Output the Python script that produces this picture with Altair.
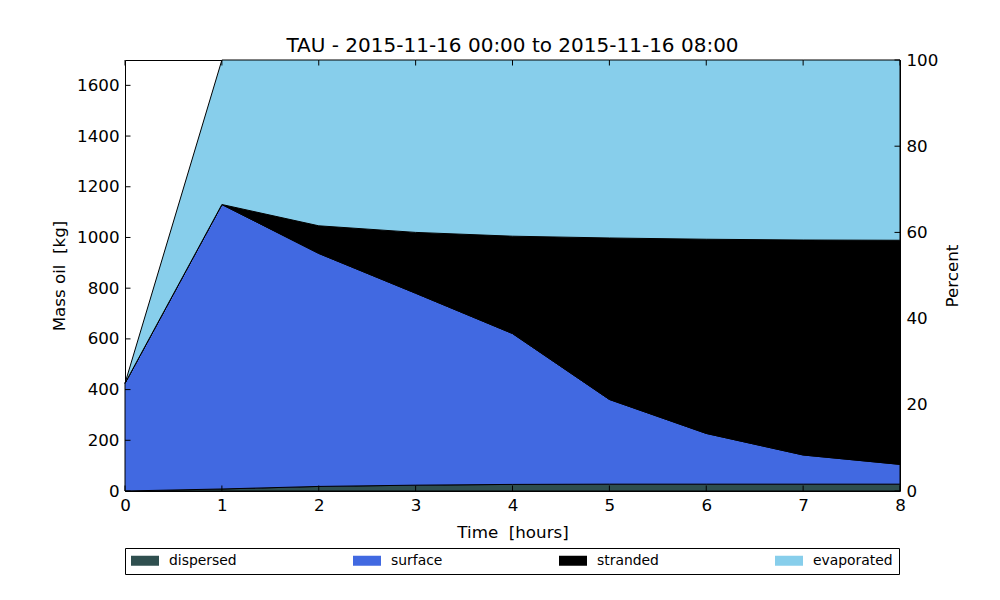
import altair as alt
import pandas as pd

hours = [0, 1, 2, 3, 4, 5, 6, 7, 8]
dispersed = [0, 8, 18, 23, 26, 27, 27, 27, 27]
surface = [425, 1122, 919, 757, 595, 334, 200, 115, 78]
stranded = [0, 0, 109, 240, 384, 637, 766, 848, 884]
evaporated = [0, 570, 654, 680, 695, 702, 707, 710, 711]

series_names = ["dispersed", "surface", "stranded", "evaporated"]
series_colors = ["#2F4F4F", "#4169E1", "#000000", "#87CEEB"]
series_values = [dispersed, surface, stranded, evaporated]

y_ticks = [0, 200, 400, 600, 800, 1000, 1200, 1400, 1600]
pct_ticks = [0, 20, 40, 60, 80, 100]
y_max = 1700

rows = []
for k, (name, vals) in enumerate(zip(series_names, series_values)):
    for h, v in zip(hours, vals):
        rows.append({"hour": h, "mass": v, "component": name, "k": k})
df = pd.DataFrame(rows)

W, H = 775, 431
FONT = "DejaVu Sans"

xscale = alt.Scale(domain=[0, 8], nice=False)
yscale = alt.Scale(domain=[0, y_max], nice=False)

areas = alt.Chart(df).mark_area(stroke="black", strokeWidth=1, opacity=1).encode(
    x=alt.X("hour:Q", scale=xscale,
            axis=alt.Axis(title="Time\u00a0 [hours]", values=hours, format="d", tickSize=0,
                          labelPadding=6, titlePadding=11, grid=False, domain=False,
                          labelFlush=False)),
    y=alt.Y("mass:Q", stack="zero", scale=yscale,
            axis=alt.Axis(title="Mass oil\u00a0 [kg]", values=y_ticks, format="d", tickSize=0,
                          labelPadding=6, titlePadding=8, grid=False, domain=False,
                          labelFlush=False)),
    color=alt.Color("component:N",
                    scale=alt.Scale(domain=series_names, range=series_colors),
                    legend=alt.Legend(title=None, orient="none", legendX=0, legendY=488,
                                      direction="horizontal", columns=4, columnPadding=116,
                                      symbolType="M-1,-0.357H1V0.357H-1Z", symbolSize=784,
                                      symbolStrokeWidth=0, symbolOpacity=1, clipHeight=13,
                                      labelFont=FONT, labelFontSize=13.9, labelColor="black",
                                      labelOffset=10, strokeColor="black", padding=6,
                                      fillColor="white", cornerRadius=0)),
    order=alt.Order("k:Q", sort="ascending"),
)

ydf = pd.DataFrame({"v": y_ticks})
left_ticks = alt.Chart(ydf).mark_rule(color="black", strokeWidth=1).encode(
    y=alt.Y("v:Q", scale=yscale, axis=None), x=alt.value(0), x2=alt.value(5.5))

pdf = pd.DataFrame({"p": pct_ticks})
right_ticks = alt.Chart(pdf).transform_calculate(kg=f"datum.p / 100 * {y_max}").mark_rule(
    color="black", strokeWidth=1).encode(
    y=alt.Y("kg:Q", scale=yscale, axis=None), x=alt.value(W - 5.5), x2=alt.value(W))

xdf = pd.DataFrame({"h": hours})
bottom_ticks = alt.Chart(xdf).mark_rule(color="black", strokeWidth=1).encode(
    x=alt.X("h:Q", scale=xscale), y=alt.value(H), y2=alt.value(H - 5.5))
top_ticks = alt.Chart(xdf).mark_rule(color="black", strokeWidth=1).encode(
    x=alt.X("h:Q", scale=xscale), y=alt.value(0), y2=alt.value(5.5))

pct_axis = alt.Chart(pdf).mark_rule(opacity=0).encode(
    y=alt.Y("p:Q", scale=alt.Scale(domain=[0, 100], nice=False),
            axis=alt.Axis(orient="right", title="Percent", values=pct_ticks, format="d", tickSize=0,
                          labelPadding=6, titlePadding=24, titleAngle=270, grid=False, domain=False,
                          labelFlush=False)),
)

chart = alt.layer(areas, left_ticks, right_ticks, bottom_ticks, top_ticks, pct_axis).resolve_scale(
    y="independent"
).properties(
    width=W, height=H,
    background="white",
    title=alt.TitleParams("TAU - 2015-11-16 00:00 to 2015-11-16 08:00", font=FONT, fontSize=20,
                          fontWeight="normal", color="black", anchor="middle", offset=-4),
    autosize=alt.AutoSizeParams(type="none"),
    padding={"left": 117, "top": 52, "right": 90, "bottom": 90},
).configure_view(stroke="black", strokeWidth=1).configure_axis(
    labelFont=FONT, labelFontSize=16.7, labelColor="black",
    titleFont=FONT, titleFontSize=16.7, titleFontWeight="normal", titleColor="black",
)

chart.save("out.html", embed_options={"renderer": "svg", "actions": False})
